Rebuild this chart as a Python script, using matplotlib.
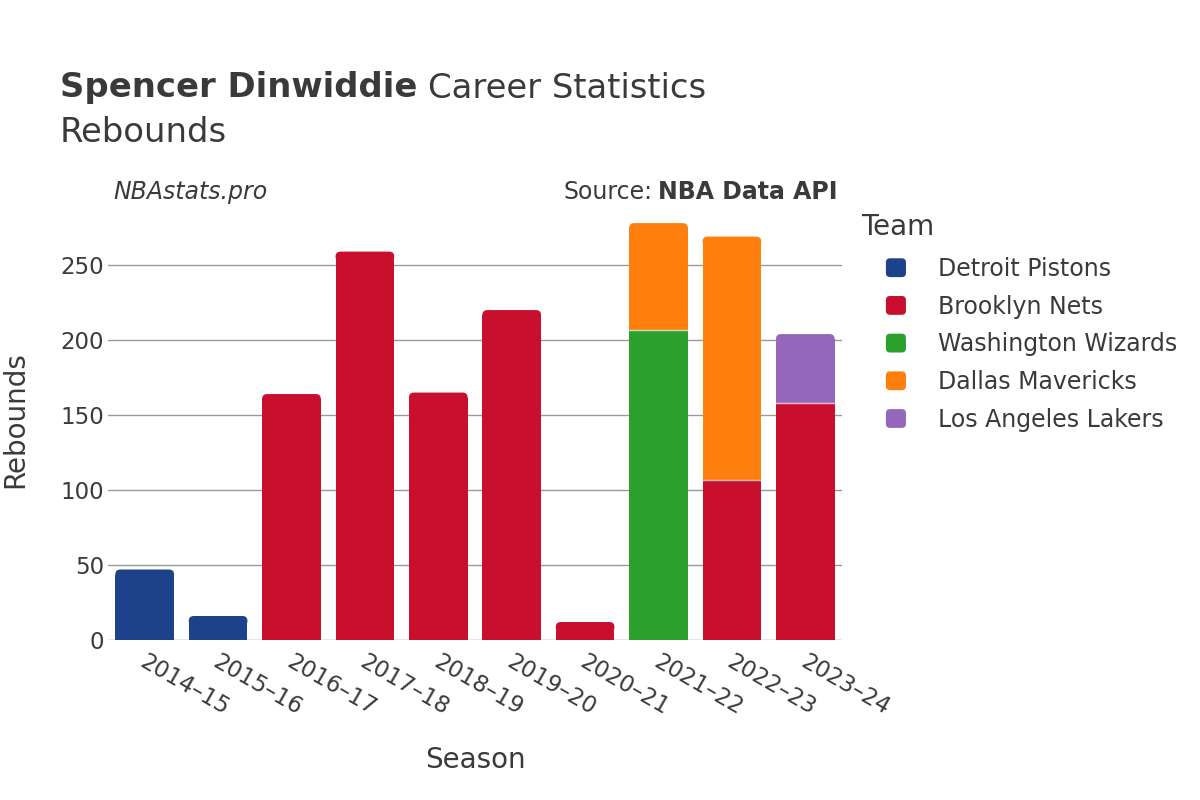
import matplotlib
matplotlib.use("Agg")
import matplotlib.pyplot as plt
from matplotlib.patches import FancyBboxPatch, Patch
from matplotlib.legend_handler import HandlerPatch
import matplotlib.transforms as mtransforms
import numpy as np

plt.rcParams['font.family'] = ['DejaVu Sans']

seasons = ["2014–15", "2015–16", "2016–17", "2017–18", "2018–19",
           "2019–20", "2020–21", "2021–22", "2022–23", "2023–24"]
teams = ["Detroit Pistons", "Brooklyn Nets", "Washington Wizards",
         "Dallas Mavericks", "Los Angeles Lakers"]
colors = ["#1d428a", "#c8102e", "#2ca02c", "#ff7f0e", "#9467bd"]

detroit = [47, 16, 0, 0, 0, 0, 0, 0, 0, 0]
brooklyn = [0, 0, 164, 259, 165, 220, 12, 0, 107, 158]
washington = [0, 0, 0, 0, 0, 0, 0, 207, 0, 0]
dallas = [0, 0, 0, 0, 0, 0, 0, 71, 162, 0]
lakers = [0, 0, 0, 0, 0, 0, 0, 0, 0, 46]
series = [detroit, brooklyn, washington, dallas, lakers]

text_color = "#3a3a3a"
W, H = 1200, 800
fig = plt.figure(figsize=(12, 8), dpi=100)
ax = fig.add_axes([108 / W, 0.2, (842 - 108) / W, (640 - 201) / H])

x = np.arange(len(seasons))
width = 0.8
totals = np.sum(np.array(series), axis=0)
ymax = totals.max() * 1.053
ax.set_xlim(-0.5, len(seasons) - 0.5)
ax.set_ylim(0, ymax)

fig.canvas.draw()
renderer = fig.canvas.get_renderer()
bbox = ax.get_window_extent()
px_x = bbox.width / len(seasons)
px_y = bbox.height / ymax
r_px = 5
rx = r_px / px_x
ry = r_px / px_y

bottom = np.zeros(len(seasons))
for vals, col in zip(series, colors):
    vals = np.array(vals, dtype=float)
    bars = ax.bar(x, vals, width, bottom=bottom, color=col, linewidth=0, zorder=3)
    for i, (b, v) in enumerate(zip(bars, vals)):
        if v <= 0:
            continue
        top = bottom[i] + v
        if np.isclose(top, totals[i]):
            b.set_visible(False)
            h_sq = max(v - ry, 0)
            ax.bar(x[i], h_sq, width, bottom=bottom[i], color=col, linewidth=0, zorder=3)
            rb = top - min(2 * ry, v)
            p = FancyBboxPatch((x[i] - width / 2, rb), width, top - rb,
                               boxstyle=f"round,pad=0,rounding_size={rx}",
                               mutation_aspect=ry / rx, facecolor=col,
                               edgecolor="none", zorder=3)
            ax.add_patch(p)
        if bottom[i] > 0:
            ax.plot([x[i] - width / 2, x[i] + width / 2], [bottom[i], bottom[i]],
                    color="white", linewidth=1, alpha=0.7, zorder=4)
    bottom = bottom + vals

ax.set_yticks([0, 50, 100, 150, 200, 250])
ax.yaxis.grid(True, color="#999999", linewidth=1, zorder=0)
ax.set_axisbelow(True)
for s in ax.spines.values():
    s.set_visible(False)
ax.axhline(0, color="#e6e6e6", linewidth=2, zorder=2)
ax.tick_params(axis="both", length=0, labelsize=16.5, colors=text_color)
ax.tick_params(axis="y", pad=3)
ax.set_xticks(x)
ax.set_xticklabels(seasons, rotation=-30, ha="left", va="center",
                   rotation_mode="anchor")
ax.tick_params(axis="x", pad=15)
shift = mtransforms.ScaledTranslation(-3 / 100, 0, fig.dpi_scale_trans)
for lab in ax.get_xticklabels():
    lab.set_transform(lab.get_transform() + shift)

ax.set_xlabel("Season", fontsize=20, color=text_color, va="center")
ax.xaxis.set_label_coords(475 / W, 1 - 760 / H, transform=fig.transFigure)
ax.set_ylabel("Rebounds", fontsize=20, color=text_color, va="center")
ax.yaxis.set_label_coords(15 / W, 1 - 420 / H, transform=fig.transFigure)


def px_width(t):
    return t.get_window_extent(renderer).width


# Title
t1 = fig.text(60 / W, 1 - 88 / H, "Spencer Dinwiddie", fontsize=24.4,
              fontweight="bold", color=text_color, va="center", ha="left")
w1 = px_width(t1)
fig.text((60 + w1 + 11) / W, 1 - 88 / H, "Career Statistics", fontsize=24.4,
         color=text_color, va="center", ha="left")
fig.text(60 / W, 1 - 132 / H, "Rebounds", fontsize=24.4,
         color=text_color, va="center", ha="left")

fig.text(113 / W, 1 - 192 / H, "NBAstats.pro", fontsize=17,
         style="italic", color=text_color, va="center", ha="left")
tb = fig.text(838 / W, 1 - 192 / H, "NBA Data API", fontsize=17,
              fontweight="bold", color=text_color, va="center", ha="right")
wb = px_width(tb)
fig.text((838 - wb - 6) / W, 1 - 192 / H, "Source:", fontsize=17,
         color=text_color, va="center", ha="right")

# Legend
fig.text(861 / W, 1 - 227 / H, "Team", fontsize=20, color=text_color,
         va="center", ha="left")


def make_round(legend, orig_handle, xdescent, ydescent, width, height, fontsize):
    return FancyBboxPatch((-xdescent, -ydescent), width, height,
                          boxstyle="round,pad=0,rounding_size=3")


handles = [Patch(facecolor=c, edgecolor="none", label=t) for t, c in zip(teams, colors)]
leg = fig.legend(handles=handles, loc="upper left",
                 bbox_to_anchor=(867 / W, 1 - 238 / H),
                 frameon=False, fontsize=17, handlelength=0.85, handleheight=0.85,
                 handletextpad=1.35, labelspacing=0.58, borderpad=0.3,
                 handler_map={Patch: HandlerPatch(patch_func=make_round)})
for t in leg.get_texts():
    t.set_color(text_color)

fig.savefig("out.png", dpi=100)
